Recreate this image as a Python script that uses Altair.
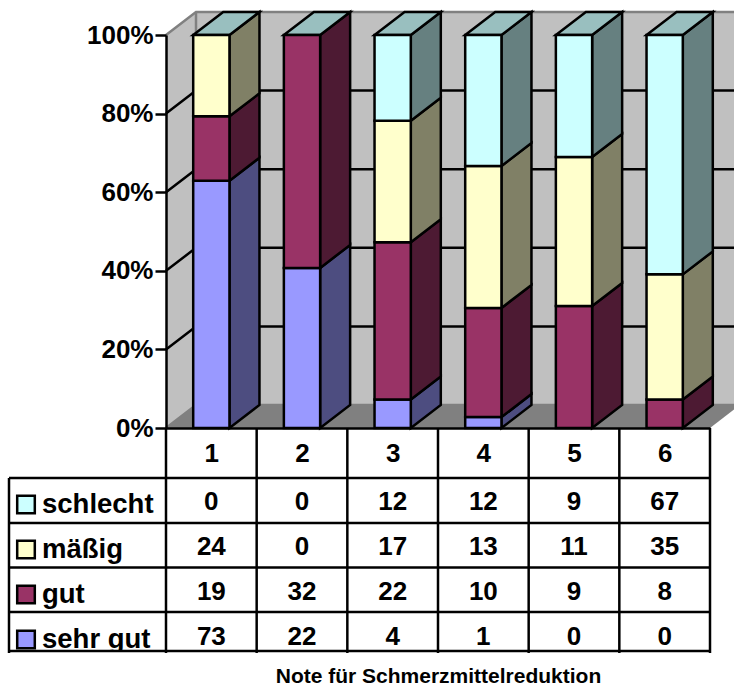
import altair as alt
import pandas as pd

# Counts per grade, bottom of the stack first
series = ["sehr gut", "gut", "mäßig", "schlecht"]
grades = [1, 2, 3, 4, 5, 6]
sehr_gut = [73, 22, 4, 1, 0, 0]
gut = [19, 32, 22, 10, 9, 8]
maessig = [24, 0, 17, 13, 11, 35]
schlecht = [0, 0, 12, 12, 9, 67]
counts = [sehr_gut, gut, maessig, schlecht]

front_colors = ["#9999FF", "#993366", "#FFFFCC", "#CCFFFF"]
side_colors = ["#4D4D80", "#4D1A33", "#808066", "#668080"]
top_color = "#99BFBF"
wall_color = "#C0C0C0"
floor_color = "#808080"
edge_grey = "#808080"
FONT = "Liberation Sans"
LINE = 2.5

PLOT_W, PLOT_H = 544, 393
PAD = {"left": 166, "top": 35, "right": 24, "bottom": 258}
COL_PX = PLOT_W / 6
PCT_PX = PLOT_H / 100
DX = 30 / COL_PX   # depth of the 3D box in column units
DY = 23 / PCT_PX   # depth of the 3D box in percent units
BAR_L, BAR_R = 0.3, 0.7
ticks = [0, 20, 40, 60, 80, 100]


def col_units(px):
    return px / COL_PX


def pct_units(px_below_axis):
    return -px_below_axis / PCT_PX


X = alt.Scale(domain=[0, 6], nice=False, zero=False, clamp=False)
Y = alt.Scale(domain=[0, 100], nice=False, zero=False, clamp=False)

# The axes carry the percent labels, the grade header and the title
X_AXIS = alt.Axis(
    values=[g - 0.5 for g in grades], labelExpr="datum.value + 0.5",
    title="Note für Schmerzmittelreduktion", titleFont=FONT, titleFontWeight="bold",
    titleFontSize=21, titleColor="black", titlePadding=199,
    labelFont=FONT, labelFontWeight="bold", labelFontSize=26, labelColor="black",
    labelPadding=12, ticks=False, grid=False, domainColor="black", domainWidth=LINE,
    labelOverlap=False, zindex=1)
Y_AXIS = alt.Axis(
    values=ticks, labelExpr="datum.value + '%'", title=None, grid=False,
    labelFont=FONT, labelFontWeight="bold", labelFontSize=26, labelColor="black",
    labelPadding=2, tickSize=11, tickColor="black", tickWidth=LINE,
    domainColor="black", domainWidth=LINE, zindex=1)


def xq(field):
    return alt.X(field, type="quantitative", scale=X, axis=X_AXIS)


def yq(field):
    return alt.Y(field, type="quantitative", scale=Y, axis=Y_AXIS)


# Stacked percentages
segments, sides = [], []
for g_i, grade in enumerate(grades):
    total = sum(c[g_i] for c in counts)
    base = 0.0
    for s_i, name in enumerate(series):
        share = counts[s_i][g_i] / total * 100
        if share > 0:
            seg = dict(grade=grade, series=name, x=g_i + BAR_L, x2=g_i + BAR_R,
                       y=base, y2=base + share, fill=front_colors[s_i])
            segments.append(seg)
            for step in (0, 1):
                sides.append(dict(id=f"{grade}-{name}", x=g_i + BAR_R + step * DX,
                                  y=base + step * DY, y2=base + share + step * DY,
                                  fill=side_colors[s_i]))
        base += share

tops = []
for g_i, grade in enumerate(grades):
    for step in (0, 1):
        tops.append(dict(id=grade, y=100 + step * DY,
                         x=g_i + BAR_L + step * DX, x2=g_i + BAR_R + step * DX))

# Walls and floor of the 3D box
right_end = 6 + DX
back_wall = pd.DataFrame([dict(x=DX, x2=right_end, y=DY, y2=100 + DY)])
left_wall = pd.DataFrame([dict(x=0, y=0, y2=100), dict(x=DX, y=DY, y2=100 + DY)])
floor = pd.DataFrame([dict(y=0, x=0, x2=6), dict(y=DY, x=DX, x2=6 + DX)])

walls = (
    alt.Chart(back_wall).mark_rect(color=wall_color)
    .encode(x=xq("x"), x2="x2", y=yq("y"), y2="y2")
    + alt.Chart(left_wall).mark_area(color=wall_color)
    .encode(x=xq("x"), y=yq("y"), y2="y2")
    + alt.Chart(floor).mark_area(color=floor_color, orient="horizontal")
    .encode(y=yq("y"), x=xq("x"), x2="x2")
)

inner = [t for t in ticks if t not in (0, 100)]


def wall_lines(levels, color):
    # Each gridline runs up the left wall and then across the back wall
    path = pd.DataFrame(
        [dict(level=t, x=0, y=t) for t in levels]
        + [dict(level=t, x=DX, y=t + DY) for t in levels]
        + [dict(level=t, x=right_end, y=t + DY) for t in levels]
    )
    return alt.Chart(path).mark_line(color=color, strokeWidth=LINE).encode(
        x=xq("x"), y=yq("y"), detail="level:N")


corner = pd.DataFrame([dict(x=DX, y=DY, y2=100 + DY)])
wall_corner = alt.Chart(corner).mark_rule(color=edge_grey, strokeWidth=LINE).encode(
    x=xq("x"), y=yq("y"), y2="y2")

# Bars: side faces, top faces, front faces
side_layer = alt.Chart(pd.DataFrame(sides)).mark_area(
    stroke="black", strokeWidth=LINE, strokeJoin="miter"
).encode(x=xq("x"), y=yq("y"), y2="y2", detail="id:N",
         fill=alt.Fill("fill:N", scale=None))
top_layer = alt.Chart(pd.DataFrame(tops)).mark_area(
    color=top_color, stroke="black", strokeWidth=LINE, orient="horizontal", strokeJoin="miter"
).encode(y=yq("y"), x=xq("x"), x2="x2", detail="id:N")
front_layer = alt.Chart(pd.DataFrame(segments)).mark_rect(
    stroke="black", strokeWidth=LINE
).encode(x=xq("x"), x2="x2", y=yq("y"), y2="y2",
         fill=alt.Fill("fill:N", scale=None))

# Data table below the plot
row_lines_px = [50, 95, 139.5, 184, 223]
row_centers_px = [73.5, 118.5, 163.5, 208.5]
row_baselines_px = [85, 130, 175, 220]
row_series = ["schlecht", "mäßig", "gut", "sehr gut"]
table_left = col_units(9 - 166)
table_bottom = pct_units(225)

cell_rows = []
for r_i, name in enumerate(row_series):
    values = counts[series.index(name)]
    for g_i in range(6):
        cell_rows.append(dict(x=g_i + 0.5, y=pct_units(row_centers_px[r_i]),
                              label=str(values[g_i])))
cells = alt.Chart(pd.DataFrame(cell_rows)).mark_text(
    font=FONT, fontWeight="bold", fontSize=26, color="black",
    align="center", baseline="middle"
).encode(x=xq("x"), y=yq("y"), text="label:N")

names = alt.Chart(pd.DataFrame([
    dict(x=col_units(42 - 166), y=pct_units(row_baselines_px[i]), label=row_series[i])
    for i in range(4)
])).mark_text(
    font=FONT, fontWeight="bold", fontSize=27.5, color="black",
    align="left", baseline="alphabetic"
).encode(x=xq("x"), y=yq("y"), text="label:N")

swatches = alt.Chart(pd.DataFrame([
    dict(x=col_units(26 - 166), y=pct_units(row_centers_px[i] + 3),
         fill=front_colors[series.index(row_series[i])])
    for i in range(4)
])).mark_point(shape="square", filled=True, size=310, stroke="black",
               strokeWidth=LINE, opacity=1).encode(
    x=xq("x"), y=yq("y"), fill=alt.Fill("fill:N", scale=None))

# The bottom table border cuts off the descenders of the last row
mask = alt.Chart(pd.DataFrame([dict(x=table_left - 0.1, x2=6.5,
                                    y=pct_units(224), y2=pct_units(240))])).mark_rect(
    color="white").encode(x=xq("x"), x2="x2", y=yq("y"), y2="y2")

h_lines = alt.Chart(pd.DataFrame([
    dict(x=table_left, x2=6, y=pct_units(p)) for p in row_lines_px
])).mark_rule(color="black", strokeWidth=LINE).encode(x=xq("x"), x2="x2", y=yq("y"))

v_lines = alt.Chart(pd.DataFrame(
    [dict(x=g, y=0, y2=table_bottom) for g in range(7)]
    + [dict(x=table_left, y=pct_units(row_lines_px[0]), y2=table_bottom)]
)).mark_rule(color="black", strokeWidth=LINE).encode(x=xq("x"), y=yq("y"), y2="y2")

chart = alt.layer(
    walls,
    wall_corner,
    wall_lines(inner, "black"),
    wall_lines([0, 100], edge_grey),
    side_layer,
    top_layer,
    front_layer,
    cells,
    names,
    swatches,
    mask,
    h_lines,
    v_lines,
).properties(
    width=PLOT_W, height=PLOT_H, padding=PAD,
    autosize=alt.AutoSizeParams(type="none"), background="white",
).configure_view(stroke=None)

chart.save("out.html", embed_options={"renderer": "svg", "actions": False})
